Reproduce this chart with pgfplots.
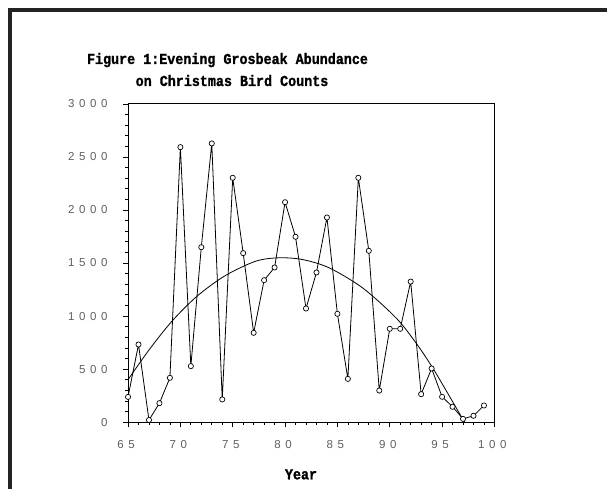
\documentclass[border=0pt]{standalone}
\usepackage{fontspec}
\usepackage{pgfplots}
\pgfplotsset{compat=1.18}
\newfontfamily\tickfont[LetterSpace=40]{Liberation Sans}
\newfontfamily\titlefont[FakeStretch=0.88,FakeBold=1.2]{Liberation Mono}
\definecolor{tickgray}{RGB}{95,95,95}
\definecolor{framegray}{RGB}{35,35,35}
\begin{document}
\begin{tikzpicture}[x=1pt,y=1pt]
\path[use as bounding box] (0,0) rectangle (607,489);
\draw[framegray, line width=4pt] (8,478.5) -- (607,478.5);
\draw[framegray, line width=4pt] (10,0) -- (10,480.5);
\node[anchor=base, font=\titlefont\bfseries\fontsize{15.2}{18}\selectfont] at (227.5,425) {Figure 1:Evening Grosbeak Abundance};
\node[anchor=base, font=\titlefont\bfseries\fontsize{15.2}{18}\selectfont] at (232,403) {on Christmas Bird Counts};
\node[anchor=base, font=\titlefont\bfseries\fontsize{15.2}{18}\selectfont] at (301,9.7) {Year};
\begin{axis}[
  at={(122.3,63)}, anchor=south west,
  scale only axis, width=366.4pt, height=318.3pt,
  xmin=65, xmax=100, ymin=0, ymax=3000,
  xtick={65,70,...,100}, ytick={0,500,...,3000},
  minor x tick num=4, minor y tick num=4,
  tick pos=left, tick align=outside,
  major tick length=5pt, minor tick length=3pt,
  tick style={black, line width=0.7pt},
  axis line style={black, line width=0.8pt},
  /pgf/number format/assume math mode=true,
  /pgf/number format/1000 sep={},
  tick label style={font=\tickfont\fontsize{11.5}{13}\selectfont, text=tickgray},
  xticklabel style={yshift=-10pt, xshift=-2pt},
  yticklabel style={xshift=-12pt},
  clip=false,
]
\addplot[black, line width=0.8pt, mark=*, mark size=2.6pt,
  mark options={fill=white, draw=black, line width=0.7pt}] coordinates {
(65,238) (66,732) (67,20) (68,179) (69,418) (70,2592) (71,528) (72,1649)
(73,2627) (74,214) (75,2303) (76,1593) (77,842) (78,1338) (79,1458) (80,2073)
(81,1747) (82,1071) (83,1411) (84,1929) (85,1021) (86,408) (87,2303) (88,1615)
(89,298) (90,880) (91,880) (92,1325) (93,264) (94,506) (95,239) (96,145)
(97,31) (98,60) (99,157)
};
\addplot[black, line width=0.8pt, smooth, tension=0.5] coordinates {
(65,400) (67,680) (69.2,952) (71.6,1188) (74.3,1382) (77.2,1517) (79.4,1549)
(81.65,1533) (84.2,1455) (87.4,1266) (90.6,983) (92.5,748) (94.1,512)
(95.7,245) (97.0,25) (97.2,0)
};
\end{axis}
\end{tikzpicture}
\end{document}
